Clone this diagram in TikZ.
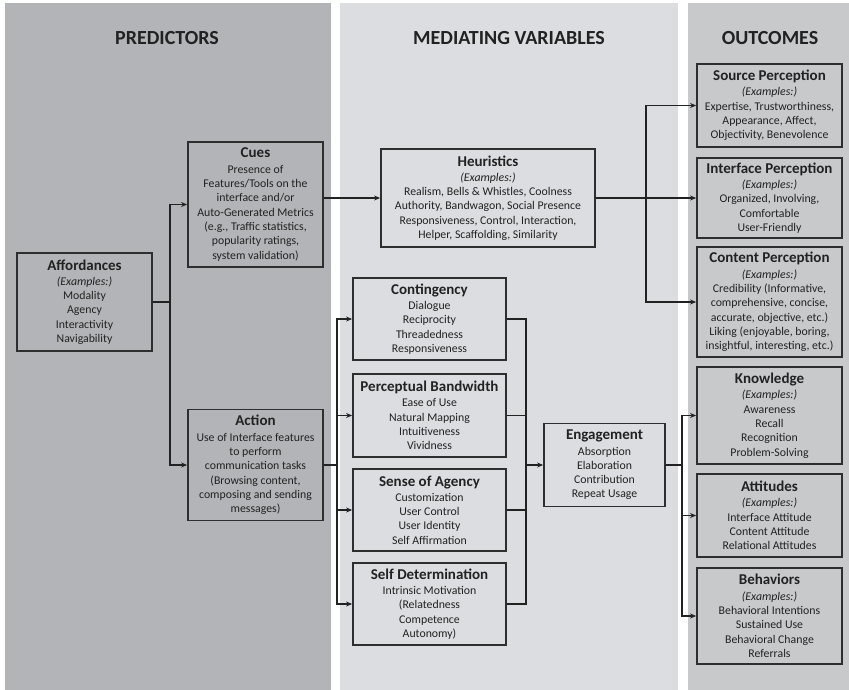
\documentclass[tikz,border=0pt]{standalone}
\usepackage{fontspec}
\setmainfont{Carlito}
\usetikzlibrary{arrows.meta}
\definecolor{leftpanel}{HTML}{B3B4B7}
\definecolor{midpanel}{HTML}{DCDDE0}
\definecolor{rightpanel}{HTML}{C8C9CB}
\definecolor{boxline}{HTML}{2E2E2E}
\definecolor{textc}{HTML}{222222}
\newcommand{\boxtitle}[1]{{\fontsize{15}{17}\selectfont\bfseries #1}\\[1pt]}
\newcommand{\eg}{\textit{(Examples:)}}
\begin{document}
\begin{tikzpicture}[%
  box/.style = {draw = boxline, line width = 1.8pt, align = center, inner sep = 2pt,
    text = textc, font = \fontsize{11.8}{14.3}\selectfont},
  head/.style = {text = textc, font = \fontsize{20}{24}\selectfont\bfseries},
  link/.style = {draw = textc, line width = 1.4pt},
  > = {Stealth[length = 6pt, width = 5pt]},
  x = 1pt, y = -1pt]
  \useasboundingbox (0, 0) rectangle (849, 690);
  \fill[leftpanel] (5, 3) rectangle (331, 690);
  \fill[midpanel] (340, 3) rectangle (678, 690);
  \fill[rightpanel] (688, 3) rectangle (849, 690);

  \node[head] (predh) at (167, 38) {PREDICTORS};
  \node[head] (medh) at (509, 38) {MEDIATING VARIABLES};
  \node[head] (outh) at (770, 38) {OUTCOMES};

  \node[box, fill = leftpanel, minimum width = 135, minimum height = 98] (aff) at (84.5, 302)
    {\boxtitle{Affordances}\eg\\Modality\\Agency\\Interactivity\\Navigability};
  \node[box, fill = leftpanel, minimum width = 135, minimum height = 125] (cues) at (255.5, 204.5)
    {\boxtitle{Cues}Presence of\\Features/Tools on the\\interface and/or\\Auto-Generated Metrics\\(e.g., Traffic statistics,\\popularity ratings,\\system validation)};
  \node[box, fill = leftpanel, minimum width = 135, minimum height = 111] (action) at (255.5, 465)
    {\boxtitle{Action}Use of Interface features\\to perform\\communication tasks\\(Browsing content,\\composing and sending\\messages)};

  \node[box, fill = midpanel, minimum width = 214, minimum height = 98] (heur) at (488, 198)
    {\boxtitle{Heuristics}\eg\\Realism, Bells \& Whistles, Coolness\\Authority, Bandwagon, Social Presence\\Responsiveness, Control, Interaction,\\Helper, Scaffolding, Similarity};
  \node[box, fill = midpanel, minimum width = 153, minimum height = 82] (cont) at (429.5, 319)
    {\boxtitle{Contingency}Dialogue\\Reciprocity\\Threadedness\\Responsiveness};
  \node[box, fill = midpanel, minimum width = 153, minimum height = 83] (band) at (429.5, 415.5)
    {\boxtitle{Perceptual Bandwidth}Ease of Use\\Natural Mapping\\Intuitiveness\\Vividness};
  \node[box, fill = midpanel, minimum width = 153, minimum height = 82] (agency) at (429.5, 510)
    {\boxtitle{Sense of Agency}Customization\\User Control\\User Identity\\Self Affirmation};
  \node[box, fill = midpanel, minimum width = 153, minimum height = 82] (selfdet) at (429.5, 604)
    {\boxtitle{Self Determination}Intrinsic Motivation\\(Relatedness\\Competence\\Autonomy)};
  \node[box, fill = midpanel, minimum width = 121, minimum height = 83] (eng) at (604.5, 465)
    {\boxtitle{Engagement}Absorption\\Elaboration\\Contribution\\Repeat Usage};

  \node[box, fill = rightpanel, minimum width = 145, minimum height = 83] (srcp) at (769.5, 105.5)
    {\boxtitle{Source Perception}\eg\\Expertise, Trustworthiness,\\Appearance, Affect,\\Objectivity, Benevolence};
  \node[box, fill = rightpanel, minimum width = 145, minimum height = 80] (intp) at (769.5, 198)
    {\boxtitle{Interface Perception}\eg\\Organized, Involving,\\Comfortable\\User-Friendly};
  \node[box, fill = rightpanel, minimum width = 145, minimum height = 110] (conp) at (769.5, 302)
    {\boxtitle{Content Perception}\eg\\Credibility (Informative,\\comprehensive, concise,\\accurate, objective, etc.)\\Liking (enjoyable, boring,\\insightful, interesting, etc.)};
  \node[box, fill = rightpanel, minimum width = 145, minimum height = 97] (know) at (769.5, 415.5)
    {\boxtitle{Knowledge}\eg\\Awareness\\Recall\\Recognition\\Problem-Solving};
  \node[box, fill = rightpanel, minimum width = 145, minimum height = 83] (att) at (769.5, 515.5)
    {\boxtitle{Attitudes}\eg\\Interface Attitude\\Content Attitude\\Relational Attitudes};
  \node[box, fill = rightpanel, minimum width = 145, minimum height = 96] (beh) at (769.5, 616)
    {\boxtitle{Behaviors}\eg\\Behavioral Intentions\\Sustained Use\\Behavioral Change\\Referrals};

  \coordinate (affj) at (170, 302);
  \coordinate (heurj) at (646, 198);
  \coordinate (actj) at (337, 465);
  \coordinate (medj) at (526, 465);
  \coordinate (engj) at (682, 465);

  \draw[link] (aff) -- (affj);
  \draw[link, ->] (affj) |- (cues);
  \draw[link, ->] (affj) |- (action);
  \draw[link, ->] (cues.east |- heur) -- (heur);
  \draw[link] (heur) -- (heurj);
  \draw[link, ->] (heurj) |- (srcp);
  \draw[link, ->] (heurj) |- (intp);
  \draw[link, ->] (heurj) |- (conp);
  \draw[link] (action) -- (actj);
  \draw[link, ->] (actj) |- (cont);
  \draw[link, ->] (actj) |- (band);
  \draw[link, ->] (actj) |- (agency);
  \draw[link, ->] (actj) |- (selfdet);
  \draw[link] (cont) -| (medj);
  \draw[link] (band) -| (medj);
  \draw[link] (agency) -| (medj);
  \draw[link] (selfdet) -| (medj);
  \draw[link, ->] (medj) -- (eng);
  \draw[link] (eng) -- (engj);
  \draw[link, ->] (engj) |- (know);
  \draw[link, ->] (engj) |- (att);
  \draw[link, ->] (engj) |- (beh);
\end{tikzpicture}
\end{document}
